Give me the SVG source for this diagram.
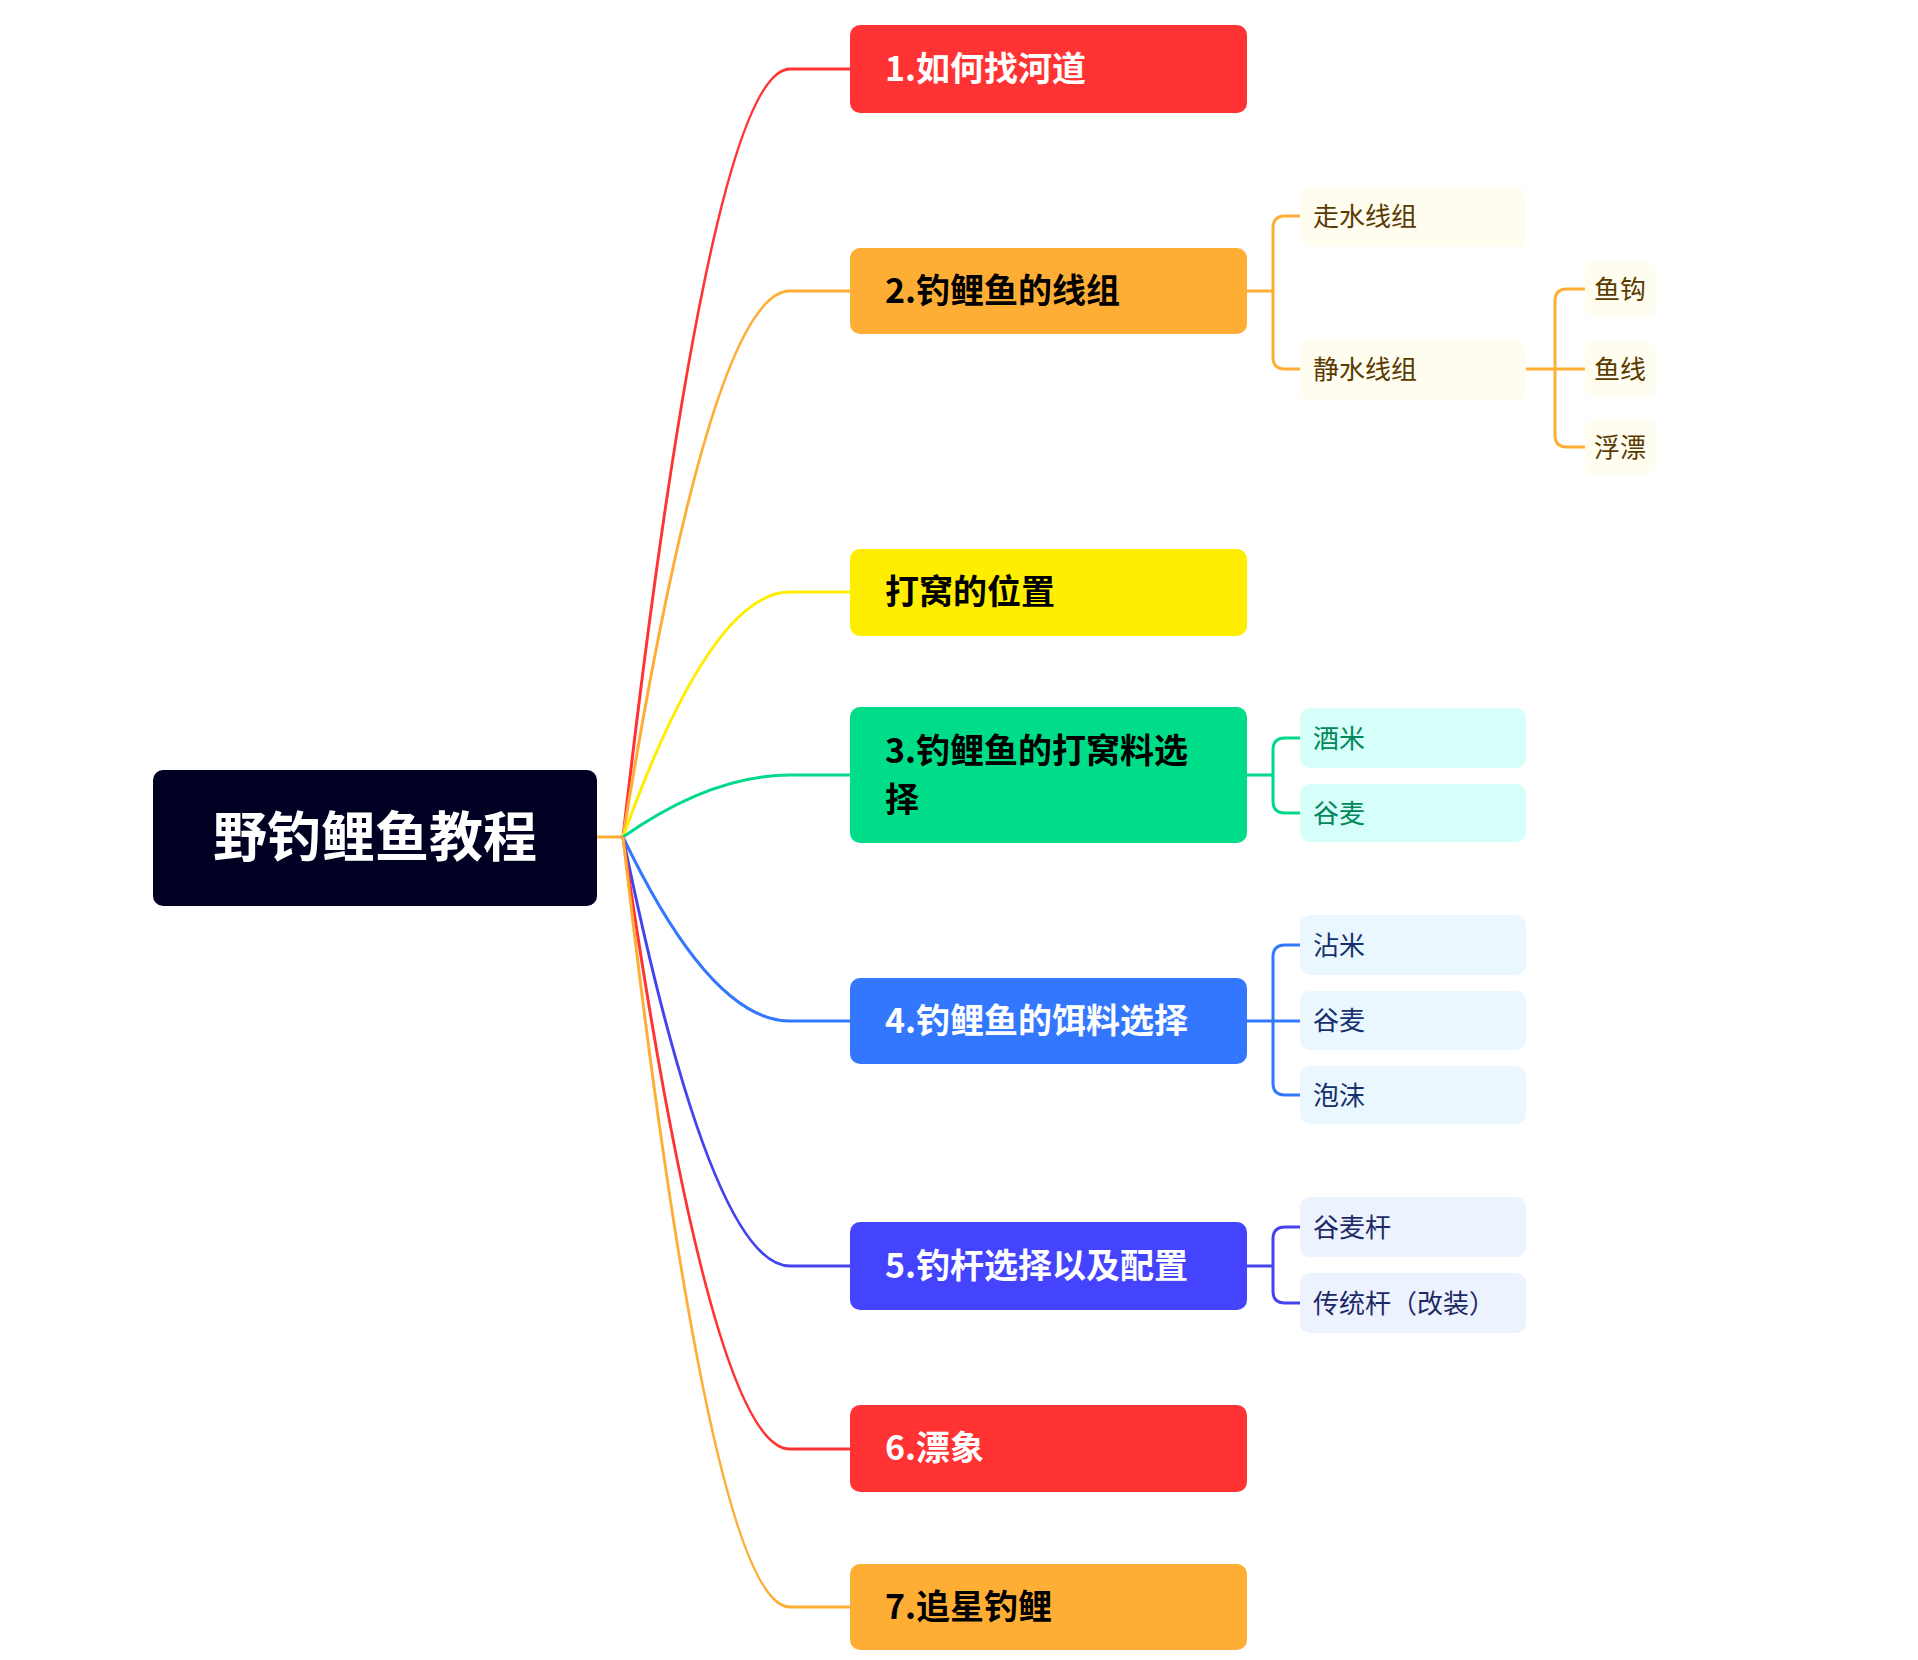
<svg xmlns="http://www.w3.org/2000/svg" width="1918" height="1660" viewBox="0 0 1918 1660">
<style>
text{font-family:"Noto Sans CJK SC","Noto Sans",sans-serif}
.m{font-size:34px;font-weight:bold;fill:#000}
.w{fill:#fff}
.s{font-size:26px}
.c{fill:none;stroke-width:3}
</style>
<rect width="1918" height="1660" fill="#fff"/>
<g id="connectors">
<path class="c" stroke="#FFAE35" d="M597 837 H623"/>
<path class="c" stroke="#FF3333" d="M623 837 Q711 69 790 69 H850"/>
<path class="c" stroke="#FFAE35" d="M623 837 Q711 291 790 291 H850"/>
<path class="c" stroke="#FFEE00" d="M623 837 Q711 592 790 592 H850"/>
<path class="c" stroke="#00D98A" d="M623 837 Q711 775 790 775 H850"/>
<path class="c" stroke="#3377FF" d="M623 837 Q711 1021 790 1021 H850"/>
<path class="c" stroke="#4444EE" d="M623 837 Q711 1266 790 1266 H850"/>
<path class="c" stroke="#FF3333" d="M623 837 Q711 1449 790 1449 H850"/>
<path class="c" stroke="#FFAE35" d="M623 837 Q711 1607 790 1607 H850"/>
<g stroke="#FFAE35" class="c" fill="none">
<path d="M1247 291 H1273 M1300 216 H1285 Q1273 216 1273 228 V357 Q1273 369 1285 369 H1300"/>
<path d="M1526 369 H1555 M1585 289 H1567 Q1555 289 1555 301 V435 Q1555 447 1567 447 H1585 M1555 369 H1585"/>
</g>
<path class="c" stroke="#00D98A" d="M1247 775 H1273 M1300 738 H1285 Q1273 738 1273 750 V801 Q1273 813 1285 813 H1300"/>
<path class="c" stroke="#3377FF" d="M1247 1021 H1300 M1300 945 H1285 Q1273 945 1273 957 V1083 Q1273 1095 1285 1095 H1300"/>
<path class="c" stroke="#4444EE" d="M1247 1266 H1273 M1300 1227 H1285 Q1273 1227 1273 1239 V1291 Q1273 1303 1285 1303 H1300"/>
</g>
<g id="root"><rect x="153" y="770" width="444" height="136" rx="10" fill="#000022"/><text x="375" y="857" font-size="54" font-weight="bold" fill="#fff" text-anchor="middle">野钓鲤鱼教程</text></g>
<g id="n1"><rect x="850" y="25" width="397" height="88" rx="10" fill="#FF3333"/><text class="m w" x="885" y="81">1.如何找河道</text></g>
<g id="n2"><rect x="850" y="248" width="397" height="86" rx="10" fill="#FFAE35"/><text class="m" x="885" y="303">2.钓鲤鱼的线组</text></g>
<g id="n2a"><rect x="1300" y="186" width="226" height="61" rx="10" fill="#FFFCF0"/><text class="s" x="1313" y="226" fill="#5A3A00">走水线组</text></g>
<g id="n2b"><rect x="1300" y="339" width="226" height="61" rx="10" fill="#FFFCF0"/><text class="s" x="1313" y="379" fill="#5A3A00">静水线组</text></g>
<g id="n2b1"><rect x="1585" y="261" width="71" height="56" rx="10" fill="#FFFCF0"/><text class="s" x="1594" y="299" fill="#5A3A00">鱼钩</text></g>
<g id="n2b2"><rect x="1585" y="341" width="71" height="56" rx="10" fill="#FFFCF0"/><text class="s" x="1594" y="379" fill="#5A3A00">鱼线</text></g>
<g id="n2b3"><rect x="1585" y="419" width="71" height="56" rx="10" fill="#FFFCF0"/><text class="s" x="1594" y="457" fill="#5A3A00">浮漂</text></g>
<g id="nw"><rect x="850" y="549" width="397" height="87" rx="10" fill="#FFEE00"/><text class="m" x="885" y="604">打窝的位置</text></g>
<g id="n3"><rect x="850" y="707" width="397" height="136" rx="10" fill="#00DD88"/><text class="m" x="885" y="763">3.钓鲤鱼的打窝料选</text><text class="m" x="885" y="812">择</text></g>
<g id="n3a"><rect x="1300" y="708" width="226" height="60" rx="10" fill="#D6FFFA"/><text class="s" x="1313" y="748" fill="#00885A">酒米</text></g>
<g id="n3b"><rect x="1300" y="784" width="226" height="58" rx="10" fill="#D6FFFA"/><text class="s" x="1313" y="823" fill="#00885A">谷麦</text></g>
<g id="n4"><rect x="850" y="978" width="397" height="86" rx="10" fill="#3377FF"/><text class="m w" x="885" y="1033">4.钓鲤鱼的饵料选择</text></g>
<g id="n4a"><rect x="1300" y="915" width="226" height="60" rx="10" fill="#EAF7FF"/><text class="s" x="1313" y="955" fill="#14306E">沾米</text></g>
<g id="n4b"><rect x="1300" y="991" width="226" height="59" rx="10" fill="#EAF7FF"/><text class="s" x="1313" y="1030" fill="#14306E">谷麦</text></g>
<g id="n4c"><rect x="1300" y="1066" width="226" height="58" rx="10" fill="#EAF7FF"/><text class="s" x="1313" y="1105" fill="#14306E">泡沫</text></g>
<g id="n5"><rect x="850" y="1222" width="397" height="88" rx="10" fill="#4444FF"/><text class="m w" x="885" y="1278">5.钓杆选择以及配置</text></g>
<g id="n5a"><rect x="1300" y="1197" width="226" height="60" rx="10" fill="#EDF2FF"/><text class="s" x="1313" y="1237" fill="#1E2A66">谷麦杆</text></g>
<g id="n5b"><rect x="1300" y="1273" width="226" height="60" rx="10" fill="#EDF2FF"/><text class="s" x="1313" y="1313" fill="#1E2A66">传统杆（改装）</text></g>
<g id="n6"><rect x="850" y="1405" width="397" height="87" rx="10" fill="#FF3333"/><text class="m w" x="885" y="1460">6.漂象</text></g>
<g id="n7"><rect x="850" y="1564" width="397" height="86" rx="10" fill="#FFAE35"/><text class="m" x="885" y="1619">7.追星钓鲤</text></g>
</svg>
